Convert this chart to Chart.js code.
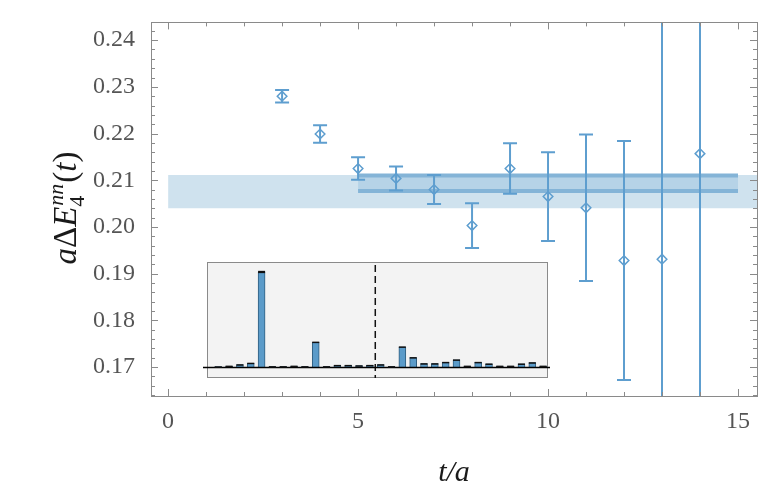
<!DOCTYPE html>
<html>
<head>
<meta charset="utf-8">
<script src="https://cdn.jsdelivr.net/npm/chart.js@4.4.0/dist/chart.umd.min.js"></script>
<style>
  body { margin: 0; background: #fff; }
  #wrap { position: relative; width: 781px; height: 496px; }
  #main { position: absolute; left: 0; top: 0; }
  #inset { position: absolute; left: 200px; top: 258px; }
</style>
</head>
<body>
<div id="wrap">
  <canvas id="main" width="781" height="496"></canvas>
  <canvas id="inset" width="355" height="124"></canvas>
</div>
<script>
// ═══════════ DATA ═══════════
const tVals = [3, 4, 5, 6, 7, 8, 9, 10, 11, 12, 13, 14];
const dE    = [0.2280, 0.2199, 0.2125, 0.2104, 0.2080, 0.2003, 0.2125, 0.2065, 0.2041, 0.1928, 0.1931, 0.2157];
const dEerr = [0.00135, 0.00186, 0.0024, 0.00257, 0.0031, 0.0048, 0.0054, 0.0095, 0.0157, 0.0256, 0.09, 0.09];

// bands: t from, t to, lower, upper
const wideBand = [0, 15.5, 0.2040, 0.2111];
const fitBand  = [5, 15, 0.2077, 0.2110];

const xTicks = [0, 5, 10, 15];
const yTicks = [0.17, 0.18, 0.19, 0.20, 0.21, 0.22, 0.23, 0.24];

// inset bars (relative), cut position
const insetVals = [0.003, 0.010, 0.024, 0.039, 1.0, 0.005, 0.005, 0.010, 0.005, 0.26,
                   0.005, 0.018, 0.018, 0.014, 0.018, 0.024, 0.005, 0.21, 0.098, 0.035,
                   0.035, 0.049, 0.074, 0.010, 0.049, 0.032, 0.010, 0.010, 0.032, 0.045, 0.010];
const insetErr = [0.004, 0.004, 0.005, 0.006, 0.012, 0.004, 0.004, 0.004, 0.004, 0.007,
                  0.004, 0.004, 0.004, 0.004, 0.004, 0.005, 0.004, 0.007, 0.006, 0.005,
                  0.005, 0.005, 0.006, 0.004, 0.005, 0.005, 0.004, 0.004, 0.005, 0.005, 0.004];
const insetCut = 14.5;

const BLUE = '#5e9ecf';
const SERIF = '"Liberation Serif", "Times New Roman", serif';

// ═══════════ PLUGINS ═══════════
const errorBars = {
    id: 'errorBars',
    afterDatasetsDraw(chart) {
        const {ctx, chartArea: a, scales: {x, y}} = chart;
        ctx.save();
        ctx.beginPath();
        ctx.rect(a.left, a.top, a.right - a.left, a.bottom - a.top);
        ctx.clip();
        ctx.strokeStyle = BLUE;
        ctx.lineWidth = 2;
        tVals.forEach((t, i) => {
            const px = x.getPixelForValue(t);
            const y1 = y.getPixelForValue(dE[i] + dEerr[i]);
            const y2 = y.getPixelForValue(dE[i] - dEerr[i]);
            ctx.beginPath();
            ctx.moveTo(px, y1); ctx.lineTo(px, y2);
            ctx.moveTo(px - 7, y1); ctx.lineTo(px + 7, y1);
            ctx.moveTo(px - 7, y2); ctx.lineTo(px + 7, y2);
            ctx.stroke();
        });
        ctx.restore();
    }
};

const frameTicks = {
    id: 'frameTicks',
    afterDraw(chart) {
        const {ctx, chartArea: a, scales: {x, y}} = chart;
        ctx.save();
        ctx.strokeStyle = '#8a8a8a';
        ctx.lineWidth = 1;
        ctx.strokeRect(Math.round(a.left) + 0.5, Math.round(a.top) + 0.5,
                       Math.round(a.right - a.left), Math.round(a.bottom - a.top));
        ctx.beginPath();
        for (let t = 0; t <= 15; t++) {
            const px = Math.round(x.getPixelForValue(t)) + 0.5;
            const len = t % 5 === 0 ? 7 : 4;
            ctx.moveTo(px, a.bottom); ctx.lineTo(px, a.bottom - len);
            ctx.moveTo(px, a.top); ctx.lineTo(px, a.top + len);
        }
        for (let k = 82; k <= 121; k++) {
            const v = k * 0.002;
            const py = Math.round(y.getPixelForValue(v)) + 0.5;
            const len = k % 5 === 0 ? 7 : 4;
            ctx.moveTo(a.left, py); ctx.lineTo(a.left + len, py);
            ctx.moveTo(a.right, py); ctx.lineTo(a.right - len, py);
        }
        ctx.stroke();

        // y axis title: a ΔE_4^{nn}(t)
        const big = 33, small = 22;
        const parts = [
            {txt: 'a', font: `italic ${big}px ${SERIF}`},
            {txt: 'Δ', font: `${big}px ${SERIF}`},
            {txt: 'E', font: `italic ${big}px ${SERIF}`},
            {sup: 'nn', sub: '4'},
            {txt: '(', font: `${big}px ${SERIF}`},
            {txt: 't', font: `italic ${big}px ${SERIF}`},
            {txt: ')', font: `${big}px ${SERIF}`}
        ];
        const supFont = `italic ${small}px ${SERIF}`;
        const subFont = `${small}px ${SERIF}`;
        let total = 0;
        parts.forEach(p => {
            if (p.sup) {
                ctx.font = supFont; const w1 = ctx.measureText(p.sup).width;
                ctx.font = subFont; const w2 = ctx.measureText(p.sub).width;
                p.w = Math.max(w1, w2) + 2;
            } else {
                ctx.font = p.font; p.w = ctx.measureText(p.txt).width;
            }
            total += p.w;
        });
        ctx.translate(76, 208);
        ctx.rotate(-Math.PI / 2);
        ctx.fillStyle = '#1a1a1a';
        ctx.textBaseline = 'alphabetic';
        let cx = -total / 2;
        parts.forEach(p => {
            if (p.sup) {
                ctx.font = supFont; ctx.fillText(p.sup, cx + 1, -13);
                ctx.font = subFont; ctx.fillText(p.sub, cx, 8);
            } else {
                ctx.font = p.font; ctx.fillText(p.txt, cx, 0);
            }
            cx += p.w;
        });
        ctx.restore();
    }
};

// ═══════════ MAIN CHART ═══════════
const bandLine = (t0, t1, v) => [{x: t0, y: v}, {x: t1, y: v}];

new Chart(document.getElementById('main'), {
    type: 'scatter',
    data: {
        datasets: [
            {
                data: tVals.map((t, i) => ({x: t, y: dE[i]})),
                pointStyle: 'rectRot',
                pointRadius: 4.8,
                borderColor: BLUE,
                borderWidth: 1.5,
                backgroundColor: 'rgba(0,0,0,0)'
            },
            {
                data: bandLine(fitBand[0], fitBand[1], fitBand[3]),
                showLine: true, pointRadius: 0, borderColor: '#84b4d7', borderWidth: 4, fill: false
            },
            {
                data: bandLine(fitBand[0], fitBand[1], fitBand[2]),
                showLine: true, pointRadius: 0, borderColor: '#84b4d7', borderWidth: 4,
                fill: '-1', backgroundColor: '#b6d3e7'
            },
            {
                data: bandLine(wideBand[0], wideBand[1], wideBand[3]),
                showLine: true, pointRadius: 0, borderWidth: 0, fill: false
            },
            {
                data: bandLine(wideBand[0], wideBand[1], wideBand[2]),
                showLine: true, pointRadius: 0, borderWidth: 0,
                fill: '-1', backgroundColor: '#cfe2ee'
            }
        ]
    },
    options: {
        responsive: false,
        animation: false,
        devicePixelRatio: 1,
        layout: { padding: { top: 22, right: 24, left: 0, bottom: 0 } },
        plugins: { legend: { display: false }, tooltip: { enabled: false } },
        scales: {
            x: {
                type: 'linear', min: -0.45, max: 15.5,
                grid: { display: false },
                border: { display: false },
                afterBuildTicks: s => { s.ticks = xTicks.map(v => ({value: v})); },
                afterFit: s => { s.height = 100; },
                ticks: {
                    padding: 3, color: '#555',
                    font: { family: SERIF, size: 24 },
                    callback: v => String(v)
                },
                title: {
                    display: true, text: 't/a', color: '#1a1a1a',
                    font: { family: SERIF, size: 30, style: 'italic' },
                    padding: { bottom: 5 }
                }
            },
            y: {
                type: 'linear', min: 0.1638, max: 0.2438,
                grid: { display: false },
                border: { display: false },
                afterBuildTicks: s => { s.ticks = yTicks.map(v => ({value: v})); },
                afterFit: s => { s.width = 151; },
                ticks: {
                    padding: 8, color: '#555',
                    font: { family: SERIF, size: 24 },
                    callback: v => v.toFixed(2)
                }
            }
        }
    },
    plugins: [errorBars, frameTicks]
});

// ═══════════ INSET ═══════════
const insetDeco = {
    id: 'insetDeco',
    beforeDatasetsDraw(chart) {
        const {ctx, chartArea: a, scales: {x, y}} = chart;
        ctx.save();
        ctx.fillStyle = '#f3f3f3';
        ctx.fillRect(a.left, a.top, a.right - a.left, a.bottom - a.top);
        ctx.strokeStyle = '#8a8a8a';
        ctx.lineWidth = 1;
        ctx.strokeRect(a.left + 0.5, a.top + 0.5, a.right - a.left - 1, a.bottom - a.top - 1);
        // cut line
        const cx = x.getPixelForValue(insetCut);
        ctx.strokeStyle = '#111';
        ctx.lineWidth = 1.5;
        ctx.setLineDash([7, 4]);
        ctx.beginPath();
        ctx.moveTo(cx, a.top + 3); ctx.lineTo(cx, a.bottom);
        ctx.stroke();
        ctx.restore();
    },
    afterDatasetsDraw(chart) {
        const {ctx, chartArea: a, scales: {x, y}} = chart;
        ctx.save();
        const y0 = Math.round(y.getPixelForValue(0)) + 0.5;
        ctx.strokeStyle = '#000';
        ctx.lineWidth = 1.3;
        ctx.beginPath();
        ctx.moveTo(a.left - 4, y0); ctx.lineTo(a.right + 2, y0);
        ctx.stroke();
        ctx.fillStyle = '#111';
        const meta = chart.getDatasetMeta(0);
        meta.data.forEach((bar, i) => {
            const top = y.getPixelForValue(insetVals[i] + insetErr[i]);
            const bot = y.getPixelForValue(insetVals[i] - insetErr[i]);
            ctx.fillRect(bar.x - 3.5, top, 7, Math.max(bot - top, 1.5));
        });
        ctx.restore();
    }
};

new Chart(document.getElementById('inset'), {
    type: 'bar',
    data: {
        datasets: [{
            data: insetVals.map((v, i) => ({x: i, y: v})),
            backgroundColor: '#5b9bc9',
            borderColor: '#2f5d7e',
            borderWidth: 1,
            barThickness: 7
        }]
    },
    options: {
        responsive: false,
        animation: false,
        devicePixelRatio: 1,
        layout: { padding: { left: 7, right: 7, top: 4, bottom: 4 } },
        plugins: { legend: { display: false }, tooltip: { enabled: false } },
        scales: {
            x: { type: 'linear', display: false, min: -1.04, max: 30.45, offset: false },
            y: { display: false, min: -0.116, max: 1.105 }
        }
    },
    plugins: [insetDeco]
});
</script>
</body>
</html>
